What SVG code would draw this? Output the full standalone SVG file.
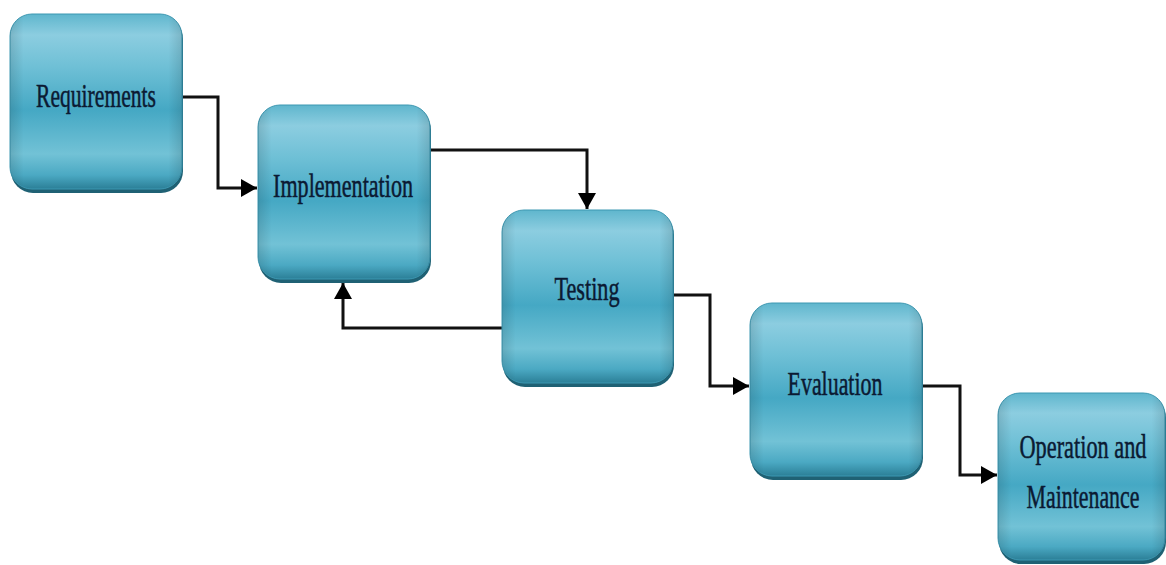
<svg xmlns="http://www.w3.org/2000/svg" width="1166" height="565" viewBox="0 0 1166 565">
  <defs>
    <linearGradient id="boxGrad" x1="0" y1="0" x2="0" y2="1">
      <stop offset="0" stop-color="#5fb6cd"/>
      <stop offset="0.12" stop-color="#8ccde0"/>
      <stop offset="0.3" stop-color="#6fc0d6"/>
      <stop offset="0.55" stop-color="#45a8c4"/>
      <stop offset="0.8" stop-color="#72c2d6"/>
      <stop offset="0.92" stop-color="#4ba9c3"/>
      <stop offset="1" stop-color="#2b7f97"/>
    </linearGradient>
    <linearGradient id="sideGrad" x1="0" y1="0" x2="1" y2="0">
      <stop offset="0" stop-color="#000" stop-opacity="0.12"/>
      <stop offset="0.08" stop-color="#000" stop-opacity="0"/>
      <stop offset="0.92" stop-color="#000" stop-opacity="0"/>
      <stop offset="1" stop-color="#000" stop-opacity="0.12"/>
    </linearGradient>
    <marker id="arrow" markerUnits="userSpaceOnUse" markerWidth="18" markerHeight="20" refX="16" refY="9" orient="auto">
      <path d="M0,0 L16,9 L0,18 Z" fill="#000"/>
    </marker>
  </defs>
  <style>
    .shadow { fill: #1f6174; }
    .box { fill: url(#boxGrad); stroke: #3d98b2; stroke-width: 1; }
    .side { fill: url(#sideGrad); }
    .label { font-family: "Liberation Serif", "Times New Roman", serif; font-size: 34px; fill: #0b1a33; stroke: #0b1a33; stroke-width: 0.5; text-anchor: middle; }
    .conn { fill: none; stroke: #111; stroke-width: 3; marker-end: url(#arrow); }
  </style>

  <g id="connectors">
    <path class="conn" d="M182,97 H218 V188 H257"/>
    <path class="conn" d="M430,150 H587 V209"/>
    <path class="conn" d="M502,328 H343 V283"/>
    <path class="conn" d="M673,295 H710 V386 H749"/>
    <path class="conn" d="M922,386 H960 V475 H997"/>
  </g>

  <g id="node-requirements">
    <rect class="shadow" x="11" y="17" width="172" height="176" rx="22"/>
    <rect class="box" x="10" y="14" width="172" height="175" rx="22"/>
    <rect class="side" x="10" y="14" width="172" height="175" rx="22"/>
    <text class="label" transform="translate(96,107) scale(0.645,1)" x="0" y="0" textLength="186" lengthAdjust="spacingAndGlyphs">Requirements</text>
  </g>

  <g id="node-implementation">
    <rect class="shadow" x="259" y="108" width="172" height="175" rx="22"/>
    <rect class="box" x="258" y="105" width="172" height="174" rx="22"/>
    <rect class="side" x="258" y="105" width="172" height="174" rx="22"/>
    <text class="label" transform="translate(343,197) scale(0.645,1)" x="0" y="0" textLength="217" lengthAdjust="spacingAndGlyphs">Implementation</text>
  </g>

  <g id="node-testing">
    <rect class="shadow" x="503" y="213" width="171" height="174" rx="22"/>
    <rect class="box" x="502" y="210" width="171" height="173" rx="22"/>
    <rect class="side" x="502" y="210" width="171" height="173" rx="22"/>
    <text class="label" transform="translate(587,300) scale(0.645,1)" x="0" y="0" textLength="101" lengthAdjust="spacingAndGlyphs">Testing</text>
  </g>

  <g id="node-evaluation">
    <rect class="shadow" x="751" y="306" width="172" height="174" rx="22"/>
    <rect class="box" x="750" y="303" width="172" height="173" rx="22"/>
    <rect class="side" x="750" y="303" width="172" height="173" rx="22"/>
    <text class="label" transform="translate(835,395) scale(0.645,1)" x="0" y="0" textLength="147" lengthAdjust="spacingAndGlyphs">Evaluation</text>
  </g>

  <g id="node-operation">
    <rect class="shadow" x="999" y="396" width="167" height="168" rx="22"/>
    <rect class="box" x="998" y="393" width="167" height="167" rx="22"/>
    <rect class="side" x="998" y="393" width="167" height="167" rx="22"/>
    <text class="label" transform="translate(1083,458) scale(0.645,1)" x="0" y="0" textLength="197" lengthAdjust="spacingAndGlyphs">Operation and</text>
    <text class="label" transform="translate(1083,508) scale(0.645,1)" x="0" y="0" textLength="175" lengthAdjust="spacingAndGlyphs">Maintenance</text>
  </g>
</svg>
